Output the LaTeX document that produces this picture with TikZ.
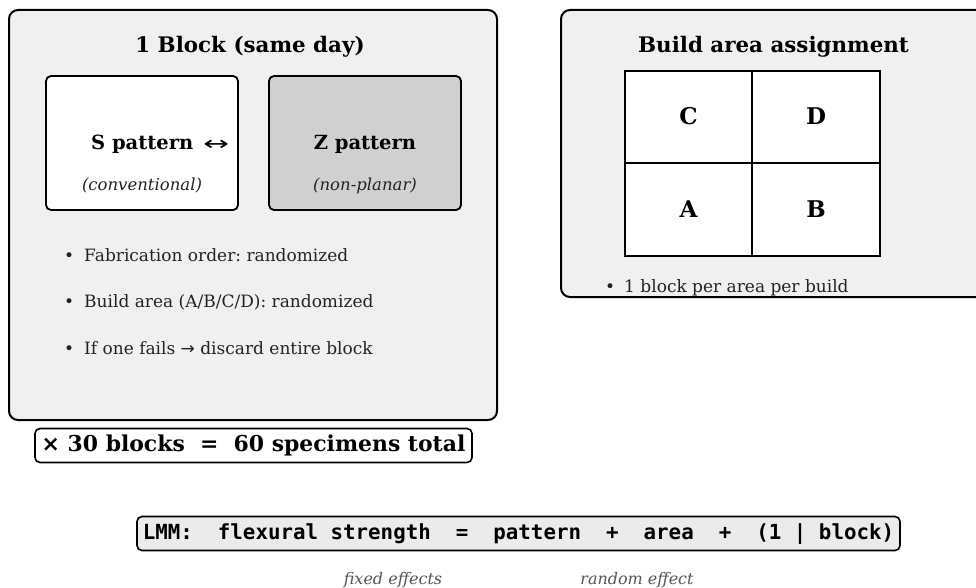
\documentclass[tikz,border=0pt]{standalone}
\usepackage{fontspec}
\setmainfont{DejaVu Serif}
\newfontfamily\monof{DejaVu Sans Mono}
\newfontfamily\arrowf{DejaVu Sans}
\definecolor{panelgray}{HTML}{F0F0F0}
\definecolor{zgray}{HTML}{D0D0D0}
\definecolor{lmmgray}{HTML}{EBEBEB}
\definecolor{txtgray}{HTML}{555555}
\definecolor{bodytxt}{HTML}{222222}
\tikzset{
  panel/.style={draw=black, line width=2pt, fill=panelgray, rounded corners=9pt},
  subbox/.style={draw=black, line width=1.8pt, rounded corners=5pt},
  cell/.style={draw=black, line width=1.5pt, fill=white},
  ttl/.style={anchor=base, inner sep=0pt, font=\fontsize{21.4}{24}\selectfont\bfseries},
  pat/.style={anchor=base, inner sep=0pt, font=\fontsize{19.5}{22}\selectfont\bfseries},
  sub/.style={anchor=base, inner sep=0pt, text=bodytxt, font=\fontsize{16.5}{20}\selectfont\itshape},
  body/.style={anchor=base west, inner sep=0pt, text=bodytxt, font=\fontsize{17}{20}\selectfont},
  letter/.style={anchor=base, inner sep=0pt, font=\fontsize{23}{26}\selectfont\bfseries},
  note/.style={anchor=base, inner sep=0pt, text=txtgray, font=\fontsize{16}{20}\selectfont\itshape},
}
\begin{document}
\frenchspacing
\begin{tikzpicture}[x=1pt,y=-1pt]
\useasboundingbox (0,0) rectangle (976,588);
% left panel
\draw[panel] (9,10) rectangle (497,420);
\node[ttl] (t1) at (250,52.5) {1 Block (same day)};
\draw[subbox, fill=white] (46,76) rectangle (238,210);
\draw[subbox, fill=zgray] (269,76) rectangle (461,210);
\node[pat, anchor=base west] (sp) at (91,150) {S pattern\hspace{10pt}\raisebox{-1pt}{\scalebox{1.6}[1]{\arrowf\mdseries ↔}}};
\node[sub] (sc) at (142,190) {(conventional)};
\node[pat] (zp) at (365,150) {Z pattern};
\node[sub] (zc) at (365,190) {(non-planar)};
\node[body] (b1) at (64,261.5) {•\hspace{10pt}Fabrication order: randomized};
\node[body] (b2) at (64,307.5) {•\hspace{10pt}Build area (A/B/C/D): randomized};
\node[body] (b3) at (64,354) {•\hspace{10pt}If one fails {\arrowf →} discard entire block};
% total box
\node[draw=black, line width=1.6pt, fill=white, rounded corners=5pt, inner sep=0pt,
      minimum width=437pt, minimum height=34pt, font=\fontsize{21.9}{24}\selectfont\bfseries] (tot) at (253.5,445.5)
      {{\arrowf ×} 30 blocks\ \ =\ \ 60 specimens total};
% right panel
\draw[panel] (561,10) rectangle (990,297);
\node[ttl] (t2) at (773.5,52.5) {Build area assignment};
\draw[cell] (625,71) rectangle (752,163);
\draw[cell] (752,71) rectangle (880,163);
\draw[cell] (625,163) rectangle (752,256);
\draw[cell] (752,163) rectangle (880,256);
\node[letter] (C) at (688.5,125) {C};
\node[letter] (D) at (816,125) {D};
\node[letter] (A) at (688.5,217.5) {A};
\node[letter] (B) at (816,217.5) {B};
\node[body] (b4) at (605,292) {•\hspace{9pt}1 block per area per build};
% LMM
\node[draw=black, line width=1.6pt, fill=lmmgray, rounded corners=5pt, inner sep=0pt,
      minimum width=763pt, minimum height=34pt, font=\fontsize{20.8}{24}\monof\bfseries] (lmm) at (518.5,533.5)
      {LMM:\ \ flexural strength\ \ =\ \ pattern\ \ +\ \ area\ \ +\ \ (1 | block)};
\node[note] (fe) at (393,584) {fixed effects};
\node[note] (re) at (637,584) {random effect};
\end{tikzpicture}
\end{document}
